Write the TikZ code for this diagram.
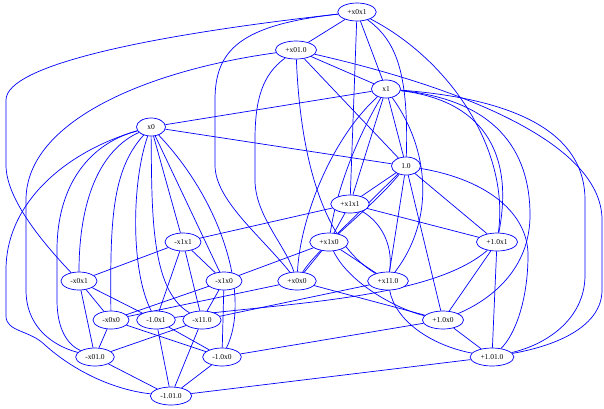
\documentclass[tikz,border=0pt]{standalone}
\usepackage{fontspec}
\setmainfont{Liberation Serif}
\usetikzlibrary{shapes.geometric}
\pgfdeclarelayer{bg}
\pgfsetlayers{bg,main}
\begin{document}
\begin{tikzpicture}[x=1pt,y=-1pt,
  nd/.style={ellipse, draw=blue, line width=0.7pt, fill=white, inner xsep=4pt, inner ysep=2pt,
    minimum width=29pt, minimum height=18pt, font=\fontsize{7.5}{8}\selectfont, text height=5pt, text depth=0pt},
  ed/.style={draw=blue, line width=0.7pt}]
\useasboundingbox (0,0) rectangle (604,408);
% terminals
\node[nd] (t0) at (151,127) {x0};
\node[nd] (t1) at (386,89) {x1};
\node[nd] (tc) at (406,166) {1.0};
% plus
\node[nd] (p01) at (357,12) {+x0x1};
\node[nd] (p0c) at (296,50) {+x01.0};
\node[nd] (p11) at (350,204) {+x1x1};
\node[nd] (p10) at (329,242) {+x1x0};
\node[nd] (pc1) at (497,242) {+1.0x1};
\node[nd] (p00) at (297,281) {+x0x0};
\node[nd] (p1c) at (388,281) {+x11.0};
\node[nd] (pc0) at (443,320) {+1.0x0};
\node[nd] (pcc) at (492,357) {+1.01.0};
% minus
\node[nd] (m11) at (183,242) {-x1x1};
\node[nd] (m01) at (79,281) {-x0x1};
\node[nd] (m10) at (224,281) {-x1x0};
\node[nd] (m00) at (111,320) {-x0x0};
\node[nd] (mc1) at (156,320) {-1.0x1};
\node[nd] (m1c) at (202,320) {-x11.0};
\node[nd] (m0c) at (95,357) {-x01.0};
\node[nd] (mc0) at (222,357) {-1.0x0};
\node[nd] (mcc) at (171,396) {-1.01.0};

\begin{pgfonlayer}{bg}
% terminal - terminal
\draw[ed] (t0) -- (t1);
\draw[ed] (t0) -- (tc);
\draw[ed] (t1) -- (tc);
% x0 - minus nodes
\draw[ed] (t0) .. controls (70,150) and (6,200) .. (6,270) -- (6,316) .. controls (6,332) and (30,330) .. (45,345) .. controls (75,372) and (115,390) .. (mcc);
\draw[ed] (t0) .. controls (85,145) and (57,190) .. (57,250) -- (57,300) .. controls (57,330) and (68,345) .. (m0c);
\draw[ed] (t0) .. controls (100,150) and (79,200) .. (m01);
\draw[ed] (t0) .. controls (112,170) and (110,220) .. (m00);
\draw[ed] (t0) .. controls (132,180) and (130,270) .. (mc1);
\draw[ed] (t0) .. controls (152,210) and (150,290) .. (m1c);
\draw[ed] (t0) -- (m11);
\draw[ed] (t0) -- (m10);
\draw[ed] (t0) .. controls (225,205) and (250,300) .. (mc0);
% x1 - plus nodes
\draw[ed] (t1) -- (p01);
\draw[ed] (t1) -- (p0c);
\draw[ed] (t1) -- (p11);
\draw[ed] (t1) .. controls (350,150) and (335,200) .. (p10);
\draw[ed] (t1) .. controls (330,140) and (300,220) .. (p00);
\draw[ed] (t1) .. controls (430,150) and (435,220) .. (p1c);
\draw[ed] (t1) .. controls (480,100) and (515,150) .. (pc1);
\draw[ed] (t1) .. controls (495,100) and (530,150) .. (530,215) .. controls (530,270) and (490,300) .. (pc0);
\draw[ed] (t1) .. controls (530,100) and (585,140) .. (585,200) -- (585,275) .. controls (585,320) and (545,345) .. (pcc);
% 1.0 - plus nodes
\draw[ed] (tc) .. controls (409,70) and (395,40) .. (p01);
\draw[ed] (tc) -- (p0c);
\draw[ed] (tc) -- (p11);
\draw[ed] (tc) -- (p10);
\draw[ed] (tc) .. controls (370,210) and (320,245) .. (p00);
\draw[ed] (tc) -- (p1c);
\draw[ed] (tc) -- (pc1);
\draw[ed] (tc) -- (pc0);
\draw[ed] (tc) .. controls (490,180) and (528,215) .. (528,255) .. controls (528,300) and (515,335) .. (pcc);
% sign changes
\draw[ed] (p01) .. controls (150,35) and (6,65) .. (6,100) -- (6,165) .. controls (6,200) and (45,245) .. (m01);
\draw[ed] (p0c) .. controls (150,70) and (26,120) .. (26,200) -- (26,290) .. controls (26,325) and (50,345) .. (m0c);
\draw[ed] (p11) -- (m11);
\draw[ed] (p10) -- (m10);
\draw[ed] (pc1) .. controls (430,300) and (280,303) .. (mc1);
\draw[ed] (p00) -- (m00);
\draw[ed] (p1c) -- (m1c);
\draw[ed] (pc0) -- (mc0);
\draw[ed] (pcc) -- (mcc);
% first argument changes
\draw[ed] (p01) -- (p11);
\draw[ed] (p01) .. controls (450,60) and (510,150) .. (pc1);
\draw[ed] (p11) -- (pc1);
\draw[ed] (p00) -- (p10);
\draw[ed] (p00) -- (pc0);
\draw[ed] (p10) .. controls (350,285) and (400,310) .. (pc0);
\draw[ed] (p0c) .. controls (300,150) and (320,240) .. (p1c);
\draw[ed] (p0c) .. controls (450,85) and (602,140) .. (602,220) -- (602,290) .. controls (602,325) and (560,345) .. (pcc);
\draw[ed] (p1c) .. controls (395,320) and (430,345) .. (pcc);
\draw[ed] (m01) -- (m11);
\draw[ed] (m01) -- (mc1);
\draw[ed] (m11) -- (mc1);
\draw[ed] (m00) -- (m10);
\draw[ed] (m00) -- (mc0);
\draw[ed] (m10) -- (mc0);
\draw[ed] (m0c) -- (m1c);
\draw[ed] (m0c) -- (mcc);
\draw[ed] (m1c) -- (mcc);
% second argument changes
\draw[ed] (p01) .. controls (240,25) and (215,50) .. (215,100) -- (215,165) .. controls (215,200) and (260,235) .. (p00);
\draw[ed] (p01) -- (p0c);
\draw[ed] (p0c) .. controls (262,75) and (255,100) .. (255,140) -- (255,180) .. controls (255,215) and (285,245) .. (p00);
\draw[ed] (p11) -- (p10);
\draw[ed] (p11) .. controls (385,225) and (393,250) .. (p1c);
\draw[ed] (p10) -- (p1c);
\draw[ed] (pc1) -- (pc0);
\draw[ed] (pc1) -- (pcc);
\draw[ed] (pc0) -- (pcc);
\draw[ed] (m01) -- (m00);
\draw[ed] (m01) -- (m0c);
\draw[ed] (m00) -- (m0c);
\draw[ed] (m11) -- (m10);
\draw[ed] (m11) -- (m1c);
\draw[ed] (m10) -- (m1c);
\draw[ed] (mc1) -- (mc0);
\draw[ed] (mc1) -- (mcc);
\draw[ed] (mc0) -- (mcc);
\end{pgfonlayer}
\end{tikzpicture}
\end{document}
